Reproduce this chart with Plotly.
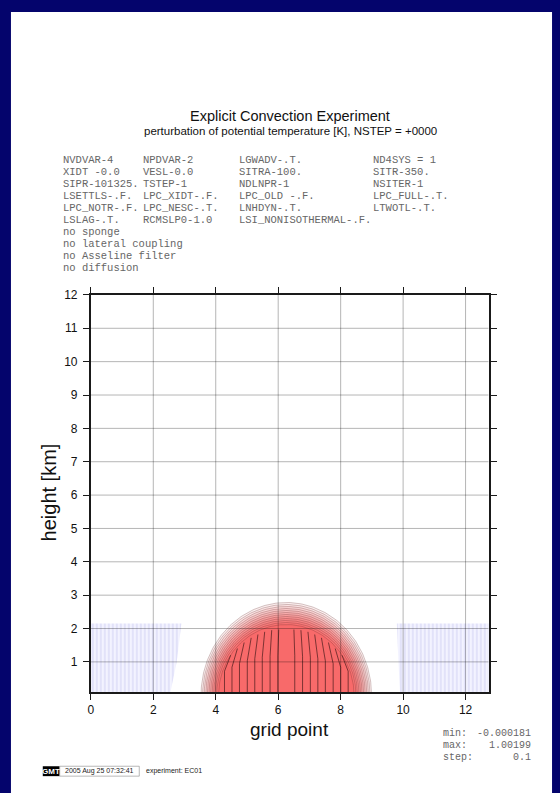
import numpy as np
import plotly.graph_objects as go

W, H = 560, 793

# ---------------- data ----------------
x_ticks = [0, 2, 4, 6, 8, 10, 12]
y_ticks = [1, 2, 3, 4, 5, 6, 7, 8, 9, 10, 11, 12]
x_range = [0, 12.74]
y_range = [0.1, 12.0]

# warm bubble: contour rings (outer -> inner), half width in grid points, height in km
bubble_center = 6.26
ring_half_width = [2.73, 2.68, 2.63, 2.58, 2.53, 2.48, 2.43, 2.38, 2.33, 2.28, 2.23, 2.17]
ring_height = [2.78, 2.72, 2.66, 2.60, 2.54, 2.48, 2.42, 2.36, 2.30, 2.24, 2.18, 2.12]
ring_colors = ["#fdf2f2", "#fbe4e4", "#fad6d6", "#f9c8c8", "#f8baba", "#f8acac",
               "#f89e9e", "#f89292", "#f88686", "#f87c7c", "#f87272", "#f86a6a"]

# noisy inner contour lines (offset from centre, top height km)
inner_dx = [1.98, 1.74, 1.50, 1.25, 1.01, 0.77, 0.52, 0.27]
inner_top = [1.2, 1.4, 1.58, 1.72, 1.82, 1.9, 1.95, 1.97]

# faint negative-noise regions
neg_left_x = [0.0, 2.55, 2.75, 2.9, 0.0]
neg_left_y = [0.1, 0.1, 1.0, 2.15, 2.15]
neg_right_x = [9.9, 12.74, 12.74, 9.8, 9.85]
neg_right_y = [0.1, 0.1, 2.15, 2.15, 1.0]

param_cols = [
    ["NVDVAR-4", "XIDT -0.0", "SIPR-101325.", "LSETTLS-.F.", "LPC_NOTR-.F.", "LSLAG-.T."],
    ["NPDVAR-2", "VESL-0.0", "TSTEP-1", "LPC_XIDT-.F.", "LPC_NESC-.T.", "RCMSLP0-1.0"],
    ["LGWADV-.T.", "SITRA-100.", "NDLNPR-1", "LPC_OLD -.F.", "LNHDYN-.T.", "LSI_NONISOTHERMAL-.F."],
    ["ND4SYS = 1", "SITR-350.", "NSITER-1", "LPC_FULL-.T.", "LTWOTL-.T.", ""],
]
notes = ["no sponge", "no lateral coupling", "no Asseline filter", "no diffusion"]
stats_labels = ["min:", "max:", "step:"]
stats_values = ["-0.000181", "1.00199", "0.1"]

title = "Explicit Convection Experiment"
subtitle = "perturbation of potential temperature [K], NSTEP = +0000"
x_title = "grid point"
y_title = "height [km]"
stamp = "2005 Aug 25 07:32:41"
experiment = "experiment: EC01"

# ---------------- helpers ----------------
def px(x):
    return x / W

def py(y):
    return 1 - y / H

fig = go.Figure()

# negative noise regions
for xs, ys in [(neg_left_x, neg_left_y), (neg_right_x, neg_right_y)]:
    fig.add_trace(go.Scatter(
        x=xs + [xs[0]], y=ys + [ys[0]], mode="lines", fill="toself",
        line=dict(width=0), fillcolor="rgba(235,235,255,0.6)",
        fillpattern=dict(shape="|", size=4, solidity=0.5, fgcolor="#d2d2f4", bgcolor="rgba(242,242,255,0.9)"),
        hoverinfo="skip", showlegend=False))

# bubble rings
t = np.linspace(0, np.pi, 160)
for a, b, c in zip(ring_half_width, ring_height, ring_colors):
    xs = bubble_center + a * np.cos(t)
    ys = b * np.sin(t)
    fig.add_trace(go.Scatter(
        x=np.concatenate([xs, [xs[0]]]), y=np.concatenate([ys, [ys[0]]]),
        mode="lines", fill="toself", fillcolor=c,
        line=dict(color="rgba(100,40,40,0.55)", width=0.5), hoverinfo="skip", showlegend=False))

# inner noisy contour lines: nearly vertical, leaning slightly towards the centre
lx, ly = [], []
for d, h in zip(inner_dx, inner_top):
    for sgn in (-1, 1):
        lx += [bubble_center + sgn * d, bubble_center + sgn * d, bubble_center + sgn * d * 0.9, None]
        ly += [0.0, h * 0.6, h, None]
fig.add_trace(go.Scatter(x=lx, y=ly, mode="lines", line=dict(color="#3a1616", width=0.65),
                         hoverinfo="skip", showlegend=False))

# grid lines above traces
shapes = []
for xt in x_ticks[1:]:
    shapes.append(dict(type="line", xref="x", yref="y", x0=xt, x1=xt, y0=y_range[0], y1=y_range[1],
                       line=dict(color="rgba(0,0,0,0.33)", width=0.9), layer="above"))
for yt in y_ticks[:-1]:
    shapes.append(dict(type="line", xref="x", yref="y", x0=x_range[0], x1=x_range[1], y0=yt, y1=yt,
                       line=dict(color="rgba(0,0,0,0.33)", width=0.9), layer="above"))

# white page
shapes.insert(0, dict(type="rect", xref="paper", yref="paper", x0=px(8), x1=px(552), y0=0, y1=py(5),
                      fillcolor="white", line=dict(width=0), layer="below"))
# GMT stamp
shapes.append(dict(type="rect", xref="paper", yref="paper", x0=px(40), x1=px(57), y0=py(776), y1=py(766),
                   fillcolor="black", line=dict(width=0), layer="above"))
shapes.append(dict(type="rect", xref="paper", yref="paper", x0=px(57), x1=px(137), y0=py(776), y1=py(766),
                   fillcolor="white", line=dict(width=0.6, color="#888"), layer="above"))

ann = []
ann.append(dict(text=title, x=px(289), y=py(110), xref="paper", yref="paper", showarrow=False,
                font=dict(family="Liberation Sans, Arial", size=14.5, color="#111"), xanchor="center", yanchor="middle"))
ann.append(dict(text=subtitle, x=px(289), y=py(125), xref="paper", yref="paper", showarrow=False,
                font=dict(family="Liberation Sans, Arial", size=11.5, color="#111"), xanchor="center", yanchor="middle"))

col_x = [58, 139, 235, 370]
row_y0, row_dy = 154, 12.2
mono = dict(family="Liberation Mono, Courier New, monospace", size=10.5, color="#666")
for ci, col in enumerate(param_cols):
    for ri, txt in enumerate(col):
        if txt:
            ann.append(dict(text=txt, x=px(col_x[ci]), y=py(row_y0 + ri * row_dy), xref="paper", yref="paper",
                            showarrow=False, font=mono, xanchor="left", yanchor="middle"))
for ni, txt in enumerate(notes):
    ann.append(dict(text=txt, x=px(col_x[0]), y=py(row_y0 + (6 + ni) * row_dy), xref="paper", yref="paper",
                    showarrow=False, font=mono, xanchor="left", yanchor="middle"))

ann.append(dict(text=x_title, x=px(288), y=py(729), xref="paper", yref="paper", showarrow=False,
                font=dict(family="Liberation Sans, Arial", size=19, color="#111"), xanchor="center", yanchor="middle"))
ann.append(dict(text=y_title, x=px(46), y=py(490), xref="paper", yref="paper", showarrow=False, textangle=-90,
                font=dict(family="Liberation Sans, Arial", size=20, color="#111"), xanchor="center", yanchor="middle"))

for i, (lab, val) in enumerate(zip(stats_labels, stats_values)):
    yy = py(733 + 12 * i)
    ann.append(dict(text=lab, x=px(440), y=yy, xref="paper", yref="paper", showarrow=False,
                    font=dict(family="Liberation Mono, Courier New, monospace", size=10, color="#666"),
                    xanchor="left", yanchor="middle"))
    ann.append(dict(text=val, x=px(533), y=yy, xref="paper", yref="paper", showarrow=False,
                    font=dict(family="Liberation Mono, Courier New, monospace", size=10, color="#666"),
                    xanchor="right", yanchor="middle"))

ann.append(dict(text="<b>GMT</b>", x=px(48.5), y=py(771), xref="paper", yref="paper", showarrow=False,
                font=dict(family="Liberation Sans, Arial", size=8, color="white"), xanchor="center", yanchor="middle"))
ann.append(dict(text=stamp, x=px(97), y=py(771), xref="paper", yref="paper", showarrow=False,
                font=dict(family="Liberation Sans, Arial", size=7, color="#222"), xanchor="center", yanchor="middle"))
ann.append(dict(text=experiment, x=px(142), y=py(771), xref="paper", yref="paper", showarrow=False,
                font=dict(family="Liberation Sans, Arial", size=7, color="#222"), xanchor="left", yanchor="middle"))

axis_common = dict(showline=True, linecolor="#1a1a1a", linewidth=1.8, mirror="ticks",
                   ticks="outside", ticklen=6, tickwidth=1, tickcolor="#1a1a1a",
                   showgrid=False, zeroline=False,
                   tickfont=dict(family="Liberation Sans, Arial", size=12, color="#111"))

fig.update_layout(
    width=W, height=H, autosize=False,
    margin=dict(l=0, r=0, t=0, b=0),
    paper_bgcolor="#04046c", plot_bgcolor="white",
    xaxis=dict(domain=[88.3 / W, 488.3 / W], range=x_range, tickvals=x_ticks, **axis_common),
    yaxis=dict(domain=[1 - 691 / H, 1 - 290.5 / H], range=y_range, tickvals=y_ticks,
               ticklabelstandoff=3, **axis_common),
    shapes=shapes, annotations=ann, showlegend=False,
)

fig.write_html("out.html")
